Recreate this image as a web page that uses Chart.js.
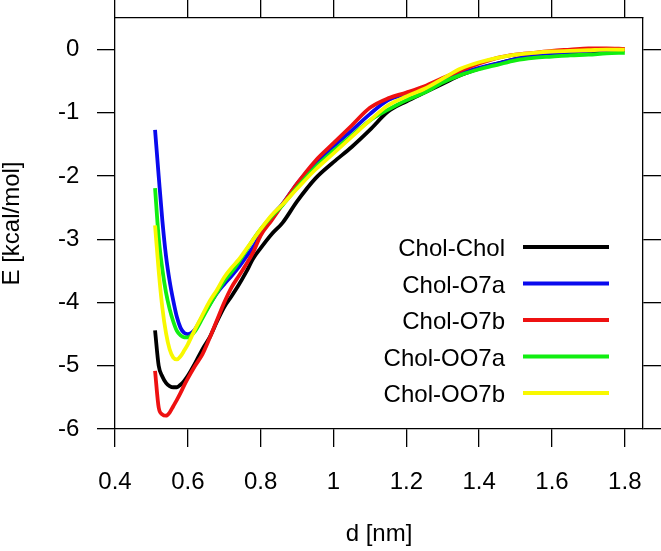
<!DOCTYPE html>
<html lang="en">
<head>
    <meta charset="UTF-8">
    <title>E vs d</title>
    <script src="https://cdn.jsdelivr.net/npm/chart.js"></script>
    <style>
        body { margin: 0; background: #fff; }
        canvas { display: block; }
    </style>
</head>
<body>
    <canvas id="energyChart" width="661" height="551"></canvas>
    <script>
        // distance grid (nm) shared by all series
        const dNm = [0.51, 0.52, 0.53, 0.54, 0.55, 0.56, 0.57, 0.58, 0.59, 0.60,
                     0.62, 0.64, 0.66, 0.68, 0.70, 0.72, 0.74, 0.76, 0.78, 0.80,
                     0.83, 0.86, 0.90, 0.95, 1.00, 1.05, 1.10, 1.15, 1.20, 1.25,
                     1.30, 1.35, 1.40, 1.45, 1.50, 1.55, 1.60, 1.65, 1.70, 1.75, 1.80];

        // energies in kcal/mol
        const cholChol = [-4.44, -5.00, -5.17, -5.27, -5.32, -5.34, -5.34, -5.30, -5.24, -5.16,
                          -4.96, -4.74, -4.55, -4.30, -4.07, -3.90, -3.72, -3.52, -3.30, -3.14,
                          -2.92, -2.74, -2.40, -2.04, -1.78, -1.54, -1.27, -0.98, -0.82, -0.68,
                          -0.54, -0.40, -0.30, -0.22, -0.15, -0.10, -0.07, -0.05, -0.04, -0.02, -0.01];
        const cholO7a = [-1.27, -2.00, -2.70, -3.26, -3.66, -3.97, -4.23, -4.40, -4.48, -4.50,
                         -4.42, -4.22, -4.03, -3.85, -3.71, -3.58, -3.44, -3.28, -3.12, -2.92,
                         -2.64, -2.44, -2.12, -1.80, -1.53, -1.28, -1.02, -0.80, -0.70, -0.61,
                         -0.50, -0.38, -0.29, -0.22, -0.15, -0.09, -0.06, -0.04, -0.02, -0.01, 0.00];
        const cholO7b = [-5.08, -5.66, -5.77, -5.79, -5.74, -5.64, -5.54, -5.43, -5.31, -5.20,
                         -5.00, -4.82, -4.56, -4.28, -4.00, -3.76, -3.58, -3.40, -3.20, -2.94,
                         -2.70, -2.45, -2.12, -1.76, -1.48, -1.20, -0.92, -0.77, -0.68, -0.58,
                         -0.45, -0.33, -0.22, -0.13, -0.08, -0.05, -0.02, 0.00, 0.02, 0.02, 0.01];
        const cholOO7a = [-2.19, -2.98, -3.47, -3.84, -4.10, -4.30, -4.45, -4.52, -4.55, -4.55,
                          -4.45, -4.25, -4.04, -3.84, -3.66, -3.52, -3.36, -3.18, -3.00, -2.84,
                          -2.64, -2.46, -2.18, -1.86, -1.60, -1.36, -1.12, -0.95, -0.80, -0.68,
                          -0.52, -0.40, -0.31, -0.24, -0.17, -0.13, -0.11, -0.09, -0.08, -0.06, -0.05];
        const cholOO7b = [-2.78, -3.50, -4.08, -4.48, -4.74, -4.87, -4.90, -4.85, -4.76, -4.66,
                          -4.42, -4.20, -3.98, -3.80, -3.60, -3.45, -3.32, -3.16, -3.00, -2.84,
                          -2.62, -2.45, -2.20, -1.90, -1.64, -1.38, -1.12, -0.88, -0.74, -0.62,
                          -0.46, -0.30, -0.20, -0.13, -0.08, -0.05, -0.03, -0.02, -0.01, 0.00, 0.00];

        const seriesNames = ['Chol-Chol', 'Chol-O7a', 'Chol-O7b', 'Chol-OO7a', 'Chol-OO7b'];
        const seriesValues = [cholChol, cholO7a, cholO7b, cholOO7a, cholOO7b];
        const seriesColors = ['#000000', '#0a0aee', '#ee1111', '#11ee11', '#f8f800'];

        const xTicks = [0.4, 0.6, 0.8, 1, 1.2, 1.4, 1.6, 1.8];
        const yTicks = [0, -1, -2, -3, -4, -5, -6];

        const FONT = "'Liberation Sans', Arial, Helvetica, sans-serif";
        const tickFont = { family: FONT, size: 24 };

        const axisLine = {
            grid: { drawOnChartArea: false, tickLength: 18, color: '#000', lineWidth: 1.3 },
            border: { color: '#000', width: 1.3 }
        };

        // fix the box size and drop the label overhang padding
        function fitX(h) {
            return s => { s.height = h; s.paddingLeft = 0; s.paddingRight = 0; };
        }
        function fitY(w) {
            return s => { s.width = w; s.paddingTop = 0; s.paddingBottom = 0; };
        }

        // legend on the right, text first then line sample
        const sideLegend = {
            id: 'sideLegend',
            afterDatasetsDraw(chart) {
                const ctx = chart.ctx;
                ctx.save();
                ctx.font = '24px ' + FONT;
                ctx.textAlign = 'right';
                ctx.textBaseline = 'alphabetic';
                seriesNames.forEach((name, i) => {
                    const y = 247 + i * 36.5;
                    ctx.fillStyle = '#000';
                    ctx.fillText(name, 505, y + 9);
                    ctx.strokeStyle = seriesColors[i];
                    ctx.lineWidth = 3.8;
                    ctx.beginPath();
                    ctx.moveTo(523, y);
                    ctx.lineTo(609, y);
                    ctx.stroke();
                });
                ctx.restore();
            }
        };

        new Chart(document.getElementById('energyChart'), {
            type: 'line',
            data: {
                datasets: seriesNames.map((name, i) => ({
                    label: name,
                    data: dNm.map((d, j) => ({ x: d, y: seriesValues[i][j] })),
                    borderColor: seriesColors[i],
                    borderWidth: 3.8,
                    pointRadius: 0,
                    fill: false,
                    cubicInterpolationMode: 'monotone',
                    order: seriesNames.length - i
                }))
            },
            options: {
                responsive: false,
                animation: false,
                layout: { padding: 0 },
                plugins: {
                    legend: { display: false },
                    tooltip: { enabled: false }
                },
                scales: {
                    x: {
                        type: 'linear', position: 'bottom', min: 0.4, max: 1.85,
                        afterBuildTicks: s => { s.ticks = xTicks.map(v => ({ value: v })); },
                        afterFit: fitX(122),
                        ticks: { font: tickFont, color: '#000', padding: 21, autoSkip: false, maxRotation: 0,
                                 callback: v => String(v) },
                        title: { display: true, text: 'd [nm]', color: '#000', font: tickFont,
                                 padding: { top: 0, bottom: 2 } },
                        ...axisLine
                    },
                    xTop: {
                        type: 'linear', position: 'top', min: 0.4, max: 1.85,
                        afterBuildTicks: s => { s.ticks = xTicks.map(v => ({ value: v })); },
                        afterFit: fitX(18),
                        ticks: { display: false },
                        ...axisLine
                    },
                    y: {
                        type: 'linear', position: 'left', min: -6, max: 0.5,
                        afterBuildTicks: s => { s.ticks = yTicks.map(v => ({ value: v })); },
                        afterFit: fitY(115),
                        ticks: { font: tickFont, color: '#000', padding: 17.7, autoSkip: false,
                                 callback: v => String(v) },
                        title: { display: true, text: 'E [kcal/mol]', color: '#000',
                                 font: { family: FONT, size: 24, lineHeight: 1 }, padding: 0 },
                        ...axisLine
                    },
                    yRight: {
                        type: 'linear', position: 'right', min: -6, max: 0.5,
                        afterBuildTicks: s => { s.ticks = yTicks.map(v => ({ value: v })); },
                        afterFit: fitY(18),
                        ticks: { display: false },
                        ...axisLine
                    }
                }
            },
            plugins: [sideLegend]
        });
    </script>
</body>
</html>
